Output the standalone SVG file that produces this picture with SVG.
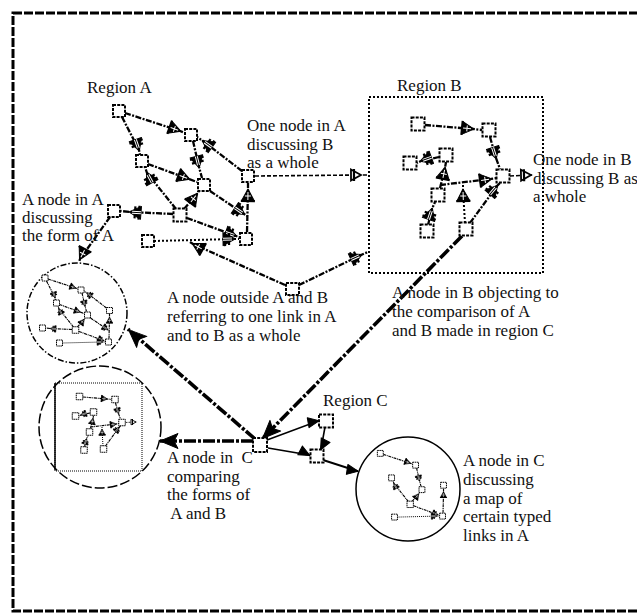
<svg xmlns="http://www.w3.org/2000/svg" width="637" height="614" viewBox="0 0 637 614">
<style>
.t{font-family:"Liberation Serif","Times New Roman",serif;font-size:17px;fill:#111}
.node{fill:#fff;stroke:#000;stroke-width:2;stroke-dasharray:3 1.2}
.la{fill:none;stroke:#000;stroke-width:2.3;stroke-dasharray:6 1.5 2 1.5}
.ldot{fill:none;stroke:#000;stroke-width:2;stroke-dasharray:2 2}
.ldash{fill:none;stroke:#000;stroke-width:1.6;stroke-dasharray:4 2}
.lbig{fill:none;stroke:#000;stroke-width:3.6;stroke-dasharray:12 2 3 2}
.lsol{fill:none;stroke:#000;stroke-width:1.6}
.mk{fill:#000;stroke:#000;stroke-width:1;stroke-linejoin:round}
.mkw{fill:#fff;stroke:#000;stroke-width:1.8}
.mkb{fill:none;stroke:#000;stroke-width:2.2}
.mkl{fill:none;stroke:#fff;stroke-width:1}
.frame{fill:none;stroke:#000;stroke-width:3;stroke-dasharray:9 2}
.boxB{fill:none;stroke:#000;stroke-width:2;stroke-dasharray:2 2}
.cA{fill:none;stroke:#000;stroke-width:1.5;stroke-dasharray:6 2 1.5 2}
.cB{fill:none;stroke:#000;stroke-width:1.5;stroke-dasharray:10 3}
.cC{fill:none;stroke:#000;stroke-width:1.5}
</style>
<defs>
<marker id="mt" markerUnits="userSpaceOnUse" viewBox="-14 -9 18 18" markerWidth="18" markerHeight="18" refX="0" refY="0" orient="auto">
<path class="mk" d="M1,0 L-11,-6.5 L-11,6.5 Z"/><path class="mkb" d="M-11,-7 V7"/><path class="mkl" d="M-2,0 H-10 M-6,-3 V3"/>
</marker>
<marker id="mh" markerUnits="userSpaceOnUse" viewBox="-14 -9 18 18" markerWidth="18" markerHeight="18" refX="0" refY="0" orient="auto">
<path class="mk" d="M1,0 L-11,-6.5 L-11,6.5 Z"/><path class="mkb" d="M-5,-6 V6 M-9,-7 V7"/><path class="mkl" d="M-2,-1 H-11 M-2,1 H-11"/>
</marker>
<marker id="mo" markerUnits="userSpaceOnUse" viewBox="-14 -9 18 18" markerWidth="18" markerHeight="18" refX="0" refY="0" orient="auto">
<path class="mkw" d="M0,0 L-10,-5.5 L-10,5.5 Z"/><path class="mkb" d="M-7,-6 V6"/>
</marker>
<marker id="ms" markerUnits="userSpaceOnUse" viewBox="-14 -9 18 18" markerWidth="18" markerHeight="18" refX="0" refY="0" orient="auto">
<path class="mk" d="M1,0 L-10,-5 L-10,5 Z"/>
</marker>
<marker id="mbig" markerUnits="userSpaceOnUse" viewBox="-20 -10 24 20" markerWidth="24" markerHeight="20" refX="0" refY="0" orient="auto">
<path class="mk" d="M2,0 L-16,-7.5 L-12,0 L-16,7.5 Z"/>
</marker>
</defs>

<rect class="frame" x="13" y="13" width="640" height="598"/>

<g id="mapA">
<circle class="cA" cx="77" cy="313" r="50"/>
</g>
<g id="mapB">
<circle class="cB" cx="100" cy="427" r="61"/>
<line x1="55" y1="383" x2="55" y2="470" stroke="#000" stroke-width="1.5"/>
</g>
<g id="mapC">
<circle class="cC" cx="408" cy="489" r="52"/>
</g>

<rect id="regionB-box" class="boxB" x="369" y="97" width="174" height="176"/>

<g id="connectors">
<g id="A-typed-links">
<path class="la" d="M125,113 L180,131 L185,133" marker-mid="url(#mt)"/>
<path class="la" d="M193,141 L199,167 L202,178" marker-mid="url(#mh)"/>
<path class="la" d="M176,209 L147,173 L145,167" marker-mid="url(#mh)"/>
<path class="la" d="M184,209 L197,194 L199,191" marker-mid="url(#mt)"/>
<path class="la" d="M187,218 L236,236 L239,237" marker-mid="url(#mh)"/>
<path class="ldot" d="M154,241 L234,239 L239,239" marker-mid="url(#mh)"/>
<path class="la" d="M247,232 L248,190 L248,183" marker-mid="url(#mt)"/>
</g>
<g id="A-other-links">
<path class="la" d="M122,117 L139,150 L140,155" marker-mid="url(#mh)"/>
<path class="la" d="M242,171 L203,141 L197,137" marker-mid="url(#mh)"/>
<path class="la" d="M148,164 L189,179 L197,182" marker-mid="url(#mt)"/>
<path class="la" d="M210,191 L244,214 L247,216" marker-mid="url(#mh)"/>
<path class="la" d="M173,214 L130,212 L121,211" marker-mid="url(#mh)"/>
</g>
<g id="B-links">
<path class="la" d="M425,125 L473,129 L482,130" marker-mid="url(#mt)"/>
<path class="la" d="M490,137 L496,158 L500,169" marker-mid="url(#mh)"/>
<path class="la" d="M439,157 L421,161 L417,163" marker-mid="url(#mh)"/>
<path class="la" d="M440,185 L491,179 L497,178" marker-mid="url(#mt)"/>
<path class="la" d="M440,188 L445,168 L446,162" marker-mid="url(#mt)"/>
<path class="ldot" d="M465,223 L463,190 L463,184" marker-mid="url(#mt)"/>
<path class="la" d="M470,223 L497,186 L500,183" marker-mid="url(#mh)"/>
<path class="la" d="M428,225 L432,209 L435,202" marker-mid="url(#mh)"/>
<path class="ldash" d="M510,176 L531,175 L534,175" marker-mid="url(#mo)"/>
</g>
<g id="cross-links">
<path class="ldash" d="M255,176 L361,175 L369,175" marker-mid="url(#mo)"/>
<path class="la" d="M110,217 L80,259 L79,262" marker-mid="url(#mt)"/>
<path class="la" d="M285,285 L193,244 L190,242" marker-mid="url(#mt)"/>
<path class="la" d="M299,285 L361,255 L368,252" marker-mid="url(#mh)"/>
<path class="lbig" d="M462,236 L264,437 L262,439" marker-mid="url(#mbig)"/>
<path class="lbig" d="M255,439 L130,331 L128,329" marker-mid="url(#mbig)"/>
<path class="lbig" d="M253,441 L162,441 L160,441" marker-mid="url(#mbig)"/>
<path class="lsol" d="M267,440 L318,421 L319,421" marker-mid="url(#ms)"/>
<path class="lsol" d="M268,448 L309,455 L310,456" marker-mid="url(#ms)"/>
<path class="lsol" d="M325,427 L321,449 L320,450" marker-mid="url(#ms)"/>
<path class="lsol" style="stroke-width:2" d="M323,460 L357,471 L358,471" marker-mid="url(#ms)"/>
</g>
</g>

<g id="regionA-nodes">
<g id="regionA-core">
<g id="nA1"><rect class="node" x="113" y="105" width="12" height="12"/></g>
<g id="nA2"><rect class="node" x="185" y="129" width="12" height="12"/></g>
<g id="nA3"><rect class="node" x="136" y="155" width="12" height="12"/></g>
<g id="nA4"><rect class="node" x="198" y="179" width="12" height="12"/></g>
<g id="nA5"><rect class="node" x="242" y="170" width="12" height="12"/></g>
<g id="nA7"><rect class="node" x="173.5" y="208.5" width="13" height="13"/></g>
<g id="nA8"><rect class="node" x="240" y="233" width="12" height="12"/></g>
<g id="nA9"><rect class="node" x="142" y="235" width="12" height="12"/></g>
</g>
<g id="nA6"><rect class="node" x="108" y="205" width="12" height="12"/></g>
</g>

<g id="regionB-nodes">
<g id="nB1"><rect class="node" x="411.5" y="117.5" width="13" height="13"/></g>
<g id="nB2"><rect class="node" x="482.5" y="123.5" width="13" height="13"/></g>
<g id="nB3"><rect class="node" x="439.5" y="148.5" width="13" height="13"/></g>
<g id="nB4"><rect class="node" x="403.5" y="156.5" width="13" height="13"/></g>
<g id="nB5"><rect class="node" x="496.5" y="169.5" width="13" height="13"/></g>
<g id="nB6"><rect class="node" x="431.5" y="188.5" width="13" height="13"/></g>
<g id="nB7"><rect class="node" x="420.5" y="224.5" width="13" height="13"/></g>
<g id="nB8"><rect class="node" x="459.5" y="222.5" width="13" height="13"/></g>
</g>

<g id="n-outside"><rect class="node" x="286" y="283" width="13" height="12"/></g>
<g id="n-C"><rect class="node" x="253" y="438" width="14" height="14"/></g>
<g id="n-C1"><rect class="node" x="319" y="414.5" width="14" height="13"/></g>
<g id="n-C2"><rect class="node" x="310.5" y="449.5" width="13" height="13"/></g>

<g id="mini-A" transform="translate(-14.5,222.5) scale(0.5)">
<use href="#A-typed-links"/><use href="#A-other-links"/><use href="#regionA-nodes"/>
</g>
<g id="mini-B" transform="translate(-129.5,334.5) scale(0.5)">
<use href="#regionB-box"/><use href="#B-links"/><use href="#regionB-nodes"/>
</g>
<g id="mini-C" transform="translate(322,399) scale(0.49)">
<use href="#A-typed-links"/><use href="#regionA-core"/>
</g>

<g id="labels">
<text class="t" x="87" y="93">Region A</text>
<text class="t" x="247" y="131">One node in A</text>
<text class="t" x="247" y="149.5">discussing B</text>
<text class="t" x="247" y="168">as a whole</text>
<text class="t" x="22" y="205">A node in A</text>
<text class="t" x="22" y="223">discussing</text>
<text class="t" x="22" y="241">the form of A</text>
<text class="t" x="397" y="91">Region B</text>
<text class="t" x="533" y="165">One node in B</text>
<text class="t" x="533" y="184">discussing B as</text>
<text class="t" x="533" y="202">a whole</text>
<text class="t" x="167" y="303">A node outside A and B</text>
<text class="t" x="167" y="322">referring to one link in A</text>
<text class="t" x="167" y="341">and to B as a whole</text>
<text class="t" x="392" y="298">A node in B objecting to</text>
<text class="t" x="392" y="317">the comparison of A</text>
<text class="t" x="392" y="336">and B made in region C</text>
<text class="t" x="323" y="406">Region C</text>
<text class="t" x="167" y="463" xml:space="preserve">A node in  C</text>
<text class="t" x="167" y="481.5">comparing</text>
<text class="t" x="167" y="500">the forms of</text>
<text class="t" x="167" y="519" xml:space="preserve"> A and B</text>
<text class="t" x="463" y="466">A node in C</text>
<text class="t" x="463" y="485">discussing</text>
<text class="t" x="463" y="503.5">a map of</text>
<text class="t" x="463" y="522">certain typed</text>
<text class="t" x="463" y="541">links in A</text>
</g>
</svg>
